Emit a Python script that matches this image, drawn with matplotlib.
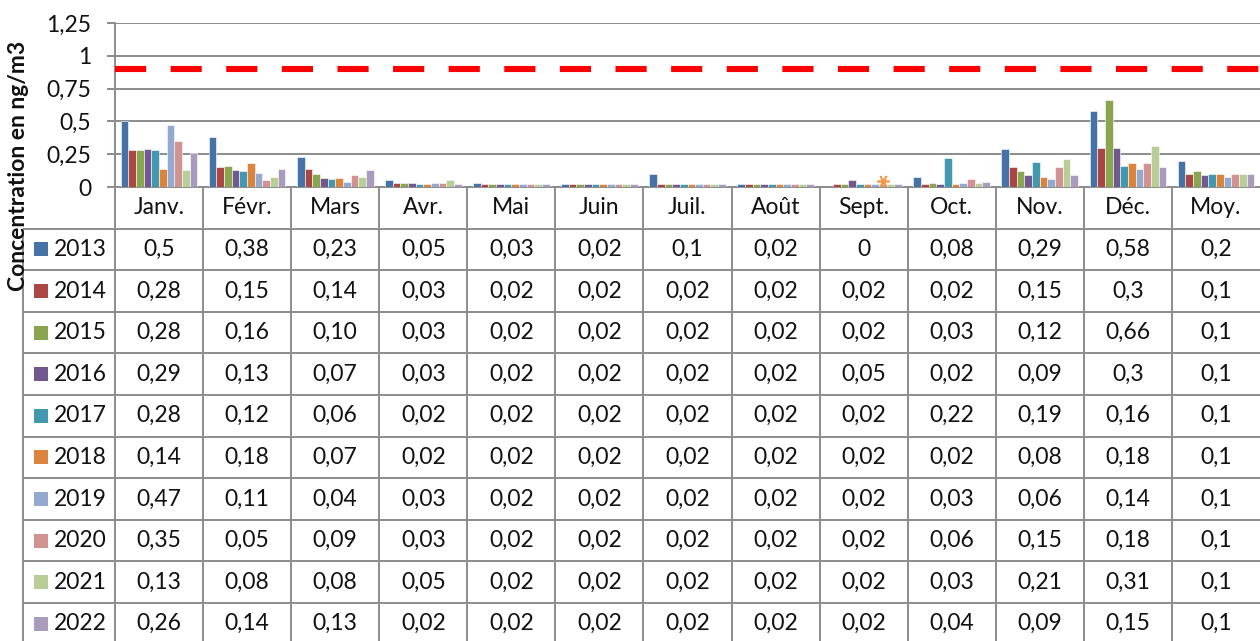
import matplotlib
matplotlib.use("Agg")
import matplotlib.pyplot as plt
import numpy as np

plt.rcParams['font.family'] = ['Lato', 'DejaVu Sans']

months = ['Janv.', 'Févr.', 'Mars', 'Avr.', 'Mai', 'Juin', 'Juil.', 'Août',
          'Sept.', 'Oct.', 'Nov.', 'Déc.', 'Moy.']
years = ['2013', '2014', '2015', '2016', '2017', '2018', '2019', '2020', '2021', '2022']

table_2013 = ['0,5', '0,38', '0,23', '0,05', '0,03', '0,02', '0,1', '0,02', '0', '0,08', '0,29', '0,58', '0,2']
table_2014 = ['0,28', '0,15', '0,14', '0,03', '0,02', '0,02', '0,02', '0,02', '0,02', '0,02', '0,15', '0,3', '0,1']
table_2015 = ['0,28', '0,16', '0,10', '0,03', '0,02', '0,02', '0,02', '0,02', '0,02', '0,03', '0,12', '0,66', '0,1']
table_2016 = ['0,29', '0,13', '0,07', '0,03', '0,02', '0,02', '0,02', '0,02', '0,05', '0,02', '0,09', '0,3', '0,1']
table_2017 = ['0,28', '0,12', '0,06', '0,02', '0,02', '0,02', '0,02', '0,02', '0,02', '0,22', '0,19', '0,16', '0,1']
table_2018 = ['0,14', '0,18', '0,07', '0,02', '0,02', '0,02', '0,02', '0,02', '0,02', '0,02', '0,08', '0,18', '0,1']
table_2019 = ['0,47', '0,11', '0,04', '0,03', '0,02', '0,02', '0,02', '0,02', '0,02', '0,03', '0,06', '0,14', '0,1']
table_2020 = ['0,35', '0,05', '0,09', '0,03', '0,02', '0,02', '0,02', '0,02', '0,02', '0,06', '0,15', '0,18', '0,1']
table_2021 = ['0,13', '0,08', '0,08', '0,05', '0,02', '0,02', '0,02', '0,02', '0,02', '0,03', '0,21', '0,31', '0,1']
table_2022 = ['0,26', '0,14', '0,13', '0,02', '0,02', '0,02', '0,02', '0,02', '0,02', '0,04', '0,09', '0,15', '0,1']
table_rows = [table_2013, table_2014, table_2015, table_2016, table_2017,
              table_2018, table_2019, table_2020, table_2021, table_2022]

# Yearly averages as drawn in the bars (unrounded look)
moy_bar = [0.2, 0.1, 0.12, 0.09, 0.1, 0.1, 0.08, 0.1, 0.1, 0.1]

limit_value = 0.9
yticks = [0, 0.25, 0.5, 0.75, 1, 1.25]
ytick_labels = ['0', '0,25', '0,5', '0,75', '1', '1,25']

# Marker flagging the missing Sept. 2013 value
flag_month = 8
flag_value = 0.046

colors = ['#4572A7', '#AA4643', '#89A54E', '#71588F', '#4198AF',
          '#DB843D', '#93A9CF', '#D19392', '#B9CD96', '#A99BBD']

W, H = 1260, 641
fig = plt.figure(figsize=(W / 100, H / 100), dpi=100)

grid_c = '#8C8C8C'
text_c = '#111111'
fs = 16.5

ax_left = 115 / W
ax_w = 1 - ax_left
ax = fig.add_axes([ax_left, (H - 187) / H, ax_w, (187 - 23) / H])
ax.set_xlim(-0.5, 12.5)
ax.set_ylim(0, 1.25)

n = len(years)
group = 0.87
bw = group / n
x = np.arange(len(months))
for k, (yr, row) in enumerate(zip(years, table_rows)):
    vals = [float(s.replace(',', '.')) for s in row]
    vals[-1] = moy_bar[k]
    ax.bar(x - group / 2 + (k + 0.5) * bw, vals, width=bw, color=colors[k],
           edgecolor='white', linewidth=0.4, zorder=3)

ax.axhline(limit_value, color='#FF0000', linewidth=4.4,
           linestyle=(0, (5.1, 4.0)), dash_capstyle='butt', zorder=4)

ax.plot([flag_month + 0.22], [flag_value], marker=(6, 2, 90), ms=9, mew=1.2,
        color='#F79646', linestyle='none', zorder=5, clip_on=False)

ax.set_yticks(yticks)
ax.set_yticklabels(ytick_labels, fontsize=fs, color=text_c)
ax.tick_params(axis='y', length=6, width=1.4, color=grid_c, pad=11)
ax.set_xticks([])
ax.yaxis.grid(True, color=grid_c, linewidth=1.4, zorder=0)
for s in ['top', 'right']:
    ax.spines[s].set_visible(False)
ax.spines['left'].set_color(grid_c)
ax.spines['left'].set_linewidth(1.4)
ax.spines['bottom'].set_color(grid_c)
ax.spines['bottom'].set_linewidth(1.4)

# Data table
row_h = 41.6
tab = fig.add_axes([ax_left, 0, ax_w, (H - 187) / H])
tab.set_xlim(-0.5, 12.5)
tab.set_ylim((H - 187) / row_h, 0)
tab.axis('off')

px = 88.077  # pixels per column
leg_left = -0.5 + (23 - 115) / px
for r in range(1, 11):
    tab.plot([leg_left, 12.5], [r, r], color=grid_c, lw=1.4, clip_on=False, solid_capstyle='butt')
for c in range(13):
    tab.plot([c - 0.5, c - 0.5], [0, 12], color=grid_c, lw=1.4, clip_on=False, solid_capstyle='butt')
tab.plot([leg_left, leg_left], [1, 12], color=grid_c, lw=1.4, clip_on=False, solid_capstyle='butt')

for c, m in enumerate(months):
    tab.text(c, 0.5, m, ha='center', va='center', fontsize=fs, color=text_c)
sq_x = -0.5 + (40.5 - 115) / px
yr_x = -0.5 + (54 - 115) / px
for r, (yr, row) in enumerate(zip(years, table_rows), start=1):
    tab.plot([sq_x], [r + 0.5], marker='s', ms=10.5, color=colors[r - 1],
             markeredgewidth=0, clip_on=False)
    tab.text(yr_x, r + 0.5, yr, ha='left', va='center', fontsize=fs, color=text_c, clip_on=False)
    for c, s in enumerate(row):
        tab.text(c, r + 0.5, s, ha='center', va='center', fontsize=fs, color=text_c)

fig.text(19 / W, 1 - 166 / H, 'Concentration en ng/m3', rotation=90,
         ha='center', va='center', fontsize=16.5, fontweight='bold', color=text_c)

fig.savefig('out.png', dpi=100)
